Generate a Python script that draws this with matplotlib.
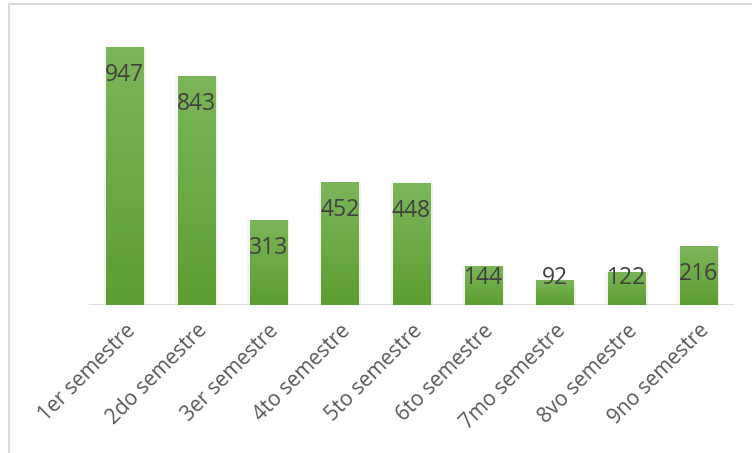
import numpy as np
import matplotlib
matplotlib.use("Agg")
import matplotlib.pyplot as plt
from matplotlib.patches import Rectangle
from matplotlib.lines import Line2D

categories = ["1er semestre", "2do semestre", "3er semestre", "4to semestre",
              "5to semestre", "6to semestre", "7mo semestre", "8vo semestre", "9no semestre"]
values = [947, 843, 313, 452, 448, 144, 92, 122, 216]

plt.rcParams['font.family'] = ['Open Sans', 'DejaVu Sans']

fig = plt.figure(figsize=(7.52, 4.53), dpi=100)
W, H = 752, 453
ax = fig.add_axes([89 / W, 1 - 305 / H, (734 - 89) / W, (305 - 33) / H])
ax.set_xlim(-0.5, len(values) - 0.5)
ax.set_ylim(0, 1000)

grad = np.linspace(0, 1, 256).reshape(-1, 1)
top = np.array([124, 182, 90]) / 255
bot = np.array([92, 158, 49]) / 255
img = bot[None, None, :] * (1 - grad[:, :, None]) + top[None, None, :] * grad[:, :, None]

bw = 0.52
for i, v in enumerate(values):
    for k, a in [(0.035, 0.06), (-0.035, 0.04)]:
        sh = Rectangle((i - bw / 2 + k, -4), bw, v + 2, facecolor='#000000', alpha=a,
                       edgecolor='none', zorder=1)
        ax.add_patch(sh)
    r = Rectangle((i - bw / 2, 0), bw, v, facecolor='none', edgecolor='none', zorder=2)
    ax.add_patch(r)
    im = ax.imshow(img, extent=(i - bw / 2, i + bw / 2, 0, v), origin='lower',
                   aspect='auto', zorder=2)
    im.set_clip_path(r)
    ly = max(v - 103, 100)
    ax.text(i, ly, str(v), ha='center', va='center', fontsize=16.5, color='#404040', zorder=3)

ax.axhline(0, color='#d9d9d9', lw=2, zorder=0)
for s in ax.spines.values():
    s.set_visible(False)
ax.set_yticks([])
ax.set_xticks(range(len(categories)))
ax.set_xticklabels(categories, rotation=45, ha='right', rotation_mode='anchor',
                   fontsize=15, color='#595959')
ax.tick_params(axis='x', length=0, pad=11)

fig.add_artist(Line2D([9 / W, 9 / W], [0, 1 - 4 / H], transform=fig.transFigure,
                      color='#d9d9d9', lw=1.5))
fig.add_artist(Line2D([9 / W, 1], [1 - 4 / H, 1 - 4 / H], transform=fig.transFigure,
                      color='#d9d9d9', lw=1.5))

fig.savefig('out.png', dpi=100, facecolor='white')
